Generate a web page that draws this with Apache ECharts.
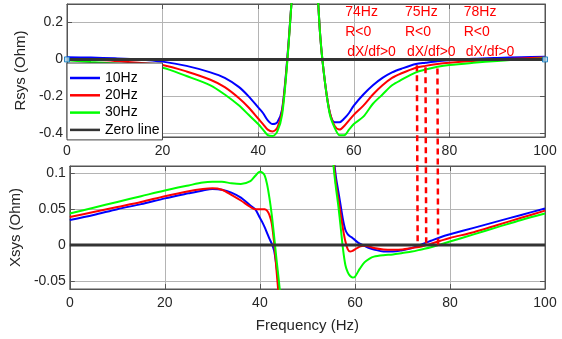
<!DOCTYPE html>
<html><head><meta charset="utf-8">
<script src="https://cdn.jsdelivr.net/npm/echarts@6/dist/echarts.min.js"></script>
<style>html,body{margin:0;padding:0;background:#fff}#c{width:562px;height:339px}</style>
</head><body><div id="c"></div>
<script>
// ---- data ----
const freqTop = [0,5,10,15,20,25,30,33,36,38,40,41,42,43,44,45,46,47,48,50,52,53,54,55,56,57,58,59,60,62,64,66,68,70,73,75,77.5,80,85,90,95,100];
const rsys10 = [0.012,0.01,0.006,0.0,-0.012,-0.035,-0.07,-0.1,-0.15,-0.2,-0.26,-0.29,-0.33,-0.35,-0.34,-0.27,-0.02,0.32,0.7,1.2,0.55,0.12,-0.13,-0.29,-0.34,-0.34,-0.32,-0.29,-0.25,-0.19,-0.14,-0.1,-0.07,-0.05,-0.025,-0.018,-0.01,-0.005,0.003,0.008,0.012,0.015];
const rsys20 = [0.002,-0.002,-0.008,-0.018,-0.03,-0.065,-0.11,-0.15,-0.21,-0.26,-0.32,-0.35,-0.38,-0.39,-0.37,-0.28,-0.03,0.32,0.7,1.2,0.55,0.12,-0.13,-0.29,-0.36,-0.38,-0.36,-0.33,-0.3,-0.25,-0.19,-0.14,-0.1,-0.075,-0.045,-0.035,-0.025,-0.018,-0.008,0.0,0.005,0.01];
const rsys30 = [-0.005,-0.014,-0.022,-0.032,-0.045,-0.09,-0.14,-0.19,-0.25,-0.3,-0.35,-0.38,-0.41,-0.415,-0.39,-0.3,-0.04,0.32,0.7,1.2,0.55,0.12,-0.13,-0.3,-0.37,-0.41,-0.41,-0.38,-0.35,-0.31,-0.24,-0.19,-0.14,-0.11,-0.07,-0.055,-0.04,-0.03,-0.018,-0.008,0.0,0.005];

const freqBot = [0,5,10,15,20,25,28,30,32,34,36,38,39,40,40.5,41,41.5,42,42.5,43,43.5,44,44.5,45,50,54.5,55,55.5,56,56.5,57,57.5,58,58.5,59,59.5,60,61,62,63,64,66,68,70,72,74,76,78,80,85,90,95,100];
const xsys10 = [0.035,0.042,0.05,0.057,0.065,0.072,0.076,0.078,0.077,0.073,0.066,0.055,0.05,0.038,0.032,0.025,0.017,0.009,0.002,-0.008,-0.03,-0.06,-0.1,-0.18,null,0.3,0.18,0.125,0.095,0.075,0.055,0.035,0.021,0.015,0.012,0.01,0.007,0.002,-0.001,-0.004,-0.006,-0.009,-0.009,-0.007,-0.004,0.001,0.006,0.011,0.015,0.024,0.033,0.042,0.051];
const xsys20 = [0.039,0.046,0.053,0.06,0.068,0.075,0.078,0.079,0.077,0.07,0.062,0.053,0.05,0.05,0.05,0.05,0.048,0.042,0.03,0.003,-0.035,-0.075,-0.12,-0.2,null,0.3,0.17,0.12,0.085,0.065,0.043,0.022,0.005,-0.006,-0.009,-0.008,-0.006,-0.002,-0.001,-0.002,-0.004,-0.006,-0.0065,-0.006,-0.004,-0.002,0.002,0.006,0.01,0.018,0.028,0.038,0.048];
const xsys30 = [0.044,0.052,0.06,0.068,0.076,0.083,0.087,0.088,0.088,0.086,0.085,0.089,0.096,0.102,0.101,0.097,0.085,0.066,0.042,0.012,-0.02,-0.05,-0.085,-0.15,null,0.3,0.17,0.11,0.08,0.055,0.025,-0.006,-0.028,-0.038,-0.043,-0.045,-0.044,-0.033,-0.024,-0.019,-0.016,-0.014,-0.013,-0.011,-0.009,-0.006,-0.003,0.001,0.005,0.015,0.025,0.035,0.044];

const zeroFreq = [0,100];
const zeroVal = [0,0];
const seriesNames = ['10Hz','20Hz','30Hz','Zero line'];
const freqTicks = [0,20,40,60,80,100];
const rsysTicks = [-0.4,-0.2,0,0.2];
const xsysTicks = [-0.05,0,0.05,0.1];
const crossFreq = [73.2,75,77.5];
const crossRsys = [-0.032,-0.042,-0.049];
const noteHz = ['74Hz','75Hz','78Hz'];
const noteLines = ['R<0','dX/df>0'];

// ---- layout / style ----
const noteX = [58.2,70.7,83];
const noteY = [0.254,0.146,0.038];
const FONT = 'Liberation Sans, Arial, sans-serif';
const AX = '#262626';
const BORDER = '#555555';
const GRIDC = '#b4b4b4';
const colors = ['#0000ff','#ff0000','#00ff00','#333333'];

const pair = (xs, ys) => xs.map((x,i) => [x, ys[i] === null ? '-' : ys[i]]);

function xAx(grid, pos, withLabels, extra) {
  return Object.assign({
    gridIndex: grid, type: 'value', min: freqTicks[0], max: freqTicks[freqTicks.length-1], interval: 20,
    position: pos,
    axisLine: {show: true, onZero: false, lineStyle: {color: BORDER, width: 1}},
    axisTick: {show: true, inside: true, length: 5, lineStyle: {color: BORDER}},
    axisLabel: {show: withLabels, color: AX, fontSize: 14, fontFamily: FONT, margin: 7},
    splitLine: {show: withLabels, lineStyle: {color: GRIDC, width: 1}}
  }, extra || {});
}
function yAx(grid, pos, withLabels, min, max, ticks, extra) {
  return Object.assign({
    gridIndex: grid, type: 'value', min: min, max: max, position: pos,
    axisLine: {show: true, onZero: false, lineStyle: {color: BORDER, width: 1}},
    axisTick: {show: true, inside: true, length: 5, customValues: ticks, lineStyle: {color: BORDER}},
    axisLabel: {show: withLabels, customValues: ticks, color: AX, fontSize: 14, fontFamily: FONT, margin: 4},
    splitLine: {show: withLabels, lineStyle: {color: GRIDC, width: 1}}
  }, extra || {});
}

const nameStyle = {color: AX, fontSize: 15, fontFamily: FONT};

function lineSeries(name, xi, yi, xs, ys, color, width) {
  return {
    name: name, type: 'line', xAxisIndex: xi, yAxisIndex: yi,
    data: pair(xs, ys), showSymbol: false, symbol: 'none',
    smooth: 0.3, connectNulls: false,
    lineStyle: {color: color, width: width}, itemStyle: {color: color},
    clip: true, animation: false, emphasis: {disabled: true}
  };
}

const chart = echarts.init(document.getElementById('c'), null, {renderer: 'canvas'});
chart.setOption({
  animation: false,
  backgroundColor: '#ffffff',
  grid: [
    {left: 67, right: 17, top: 4, height: 133, show: true, borderColor: BORDER, borderWidth: 1},
    {left: 67, right: 17, top: 166, height: 123, show: true, borderColor: BORDER, borderWidth: 1}
  ],
  xAxis: [
    xAx(0, 'bottom', true),
    xAx(1, 'bottom', true, {name: 'Frequency (Hz)', nameLocation: 'middle', nameGap: 29, nameTextStyle: nameStyle}),
    xAx(0, 'top', false),
    xAx(1, 'top', false)
  ],
  yAxis: [
    yAx(0, 'left', true, -0.42, 0.3, rsysTicks, {name: 'Rsys (Ohm)', nameLocation: 'middle', nameGap: 31, nameTextStyle: nameStyle}),
    yAx(1, 'left', true, -0.061, 0.11, xsysTicks, {name: 'Xsys (Ohm)', nameLocation: 'middle', nameGap: 44, nameTextStyle: nameStyle}),
    yAx(0, 'right', false, -0.42, 0.3, rsysTicks),
    yAx(1, 'right', false, -0.061, 0.11, xsysTicks)
  ],
  legend: {
    data: seriesNames.map((n, i) => ({name: n, icon: 'rect', itemStyle: {color: colors[i]}})),
    orient: 'vertical', left: 67, top: 63,
    backgroundColor: '#ffffff', borderColor: '#404040', borderWidth: 1,
    padding: [8, 3, 3, 3], itemWidth: 30, itemHeight: 2.5, itemGap: 3.3,
    textStyle: {fontSize: 14, fontFamily: FONT, color: '#000', lineHeight: 14},
    selectedMode: false
  },
  series: [
    lineSeries(seriesNames[0], 0, 0, freqTop, rsys10, colors[0], 2),
    lineSeries(seriesNames[1], 0, 0, freqTop, rsys20, colors[1], 2),
    lineSeries(seriesNames[2], 0, 0, freqTop, rsys30, colors[2], 2),
    lineSeries(seriesNames[3], 0, 0, zeroFreq, zeroVal, colors[3], 3),
    {type: 'scatter', xAxisIndex: 0, yAxisIndex: 0, data: pair(zeroFreq, zeroVal), symbol: 'rect', symbolSize: 5,
     itemStyle: {color: '#a8d4f0', borderColor: '#0072bd', borderWidth: 1}, z: 5, silent: true, clip: false},
    lineSeries(seriesNames[0], 1, 1, freqBot, xsys10, colors[0], 2),
    lineSeries(seriesNames[1], 1, 1, freqBot, xsys20, colors[1], 2),
    lineSeries(seriesNames[2], 1, 1, freqBot, xsys30, colors[2], 2),
    lineSeries(seriesNames[3], 1, 1, zeroFreq, zeroVal, colors[3], 3)
  ]
});

// dashed markers and notes, placed through the chart's own scales
const graphics = [];
crossFreq.forEach((f, i) => {
  const p1 = chart.convertToPixel({seriesIndex: 0}, [f, crossRsys[i]]);
  const p2 = chart.convertToPixel({seriesIndex: 5}, [f, 0]);
  graphics.push({type: 'line', z: 50, silent: true,
    shape: {x1: p1[0], y1: p1[1], x2: p2[0], y2: p2[1]},
    style: {stroke: '#ff0000', lineWidth: 2.5, lineDash: [6, 4]}});
});
noteHz.forEach((hz, i) => {
  const texts = [hz].concat(noteLines);
  texts.forEach((t, j) => {
    const p = chart.convertToPixel({seriesIndex: 0}, [noteX[i], noteY[j]]);
    graphics.push({type: 'text', z: 60, silent: true, x: p[0] + (j === 2 ? 2 : 0), y: p[1],
      style: {text: t, fill: '#ff0000', fontSize: 14, fontFamily: FONT, align: 'left', verticalAlign: 'middle'}});
  });
});
chart.setOption({graphic: graphics});
</script>
</body></html>
